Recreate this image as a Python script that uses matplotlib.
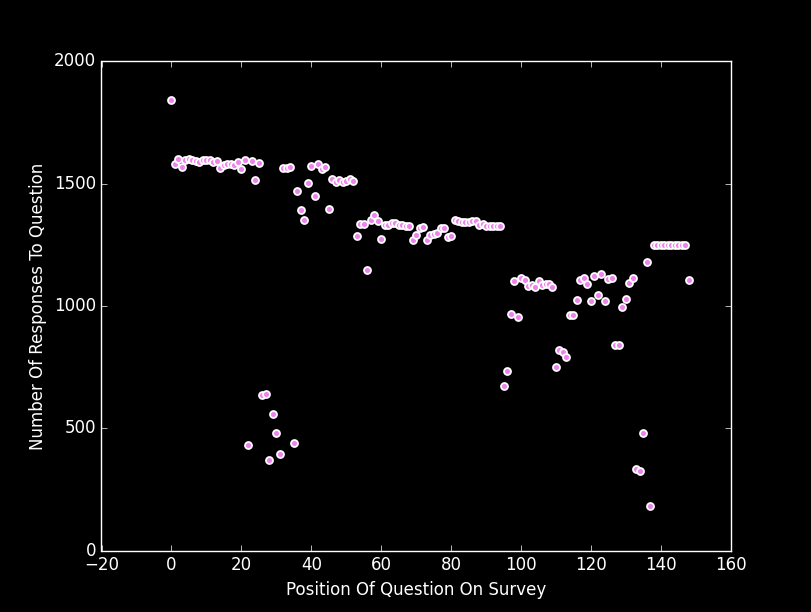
import numpy as np
import matplotlib
matplotlib.use('Agg')
import matplotlib.pyplot as plt

plt.style.use('classic')
for key in ['text.color', 'axes.labelcolor', 'xtick.color', 'ytick.color', 'axes.edgecolor']:
    plt.rcParams[key] = 'white'
plt.rcParams['figure.facecolor'] = 'black'
plt.rcParams['axes.facecolor'] = 'black'
plt.rcParams['savefig.facecolor'] = 'black'
plt.rcParams['savefig.edgecolor'] = 'black'

# number of responses for each question position (0..148)
responses = [1842, 1579, 1602, 1568, 1597, 1602, 1597, 1593, 1587, 1597,
             1597, 1597, 1587, 1593, 1564, 1575, 1579, 1579, 1575, 1590,
             1561, 1597, 431, 1593, 1515, 1583, 637, 639, 369, 557,
             480, 394, 1564, 1564, 1568, 439, 1470, 1392, 1351, 1503,
             1572, 1449, 1580, 1560, 1568, 1396, 1519, 1506, 1516, 1506,
             1510, 1520, 1510, 1286, 1335, 1335, 1146, 1351, 1372, 1347,
             1274, 1331, 1331, 1339, 1339, 1331, 1331, 1327, 1327, 1270,
             1290, 1318, 1322, 1270, 1290, 1294, 1298, 1318, 1318, 1282,
             1286, 1351, 1346, 1342, 1342, 1342, 1346, 1348, 1329, 1336,
             1327, 1327, 1327, 1327, 1327, 672, 733, 967, 1102, 954,
             1114, 1106, 1081, 1085, 1077, 1102, 1085, 1089, 1089, 1077,
             752, 819, 814, 793, 962, 962, 1024, 1106, 1114, 1089,
             1020, 1122, 1044, 1130, 1020, 1110, 1114, 840, 840, 995,
             1028, 1093, 1114, 333, 324, 480, 1179, 185, 1249, 1249,
             1249, 1249, 1249, 1249, 1249, 1249, 1249, 1249, 1106]
positions = list(range(len(responses)))

fig = plt.figure(figsize=(8.12, 6.12), dpi=100)
ax = fig.add_subplot(111)

ax.scatter(positions, responses, s=25, c='violet', edgecolors='white', linewidths=1.3)

ax.set_xlim(-20, 160)
ax.set_ylim(0, 2000)
ax.set_xticks(np.arange(-20, 161, 20))
ax.set_yticks(np.arange(0, 2001, 500))

ax.set_xlabel('Position Of Question On Survey')
ax.set_ylabel('Number Of Responses To Question')

plt.savefig('out.png', dpi=100, facecolor='black')
